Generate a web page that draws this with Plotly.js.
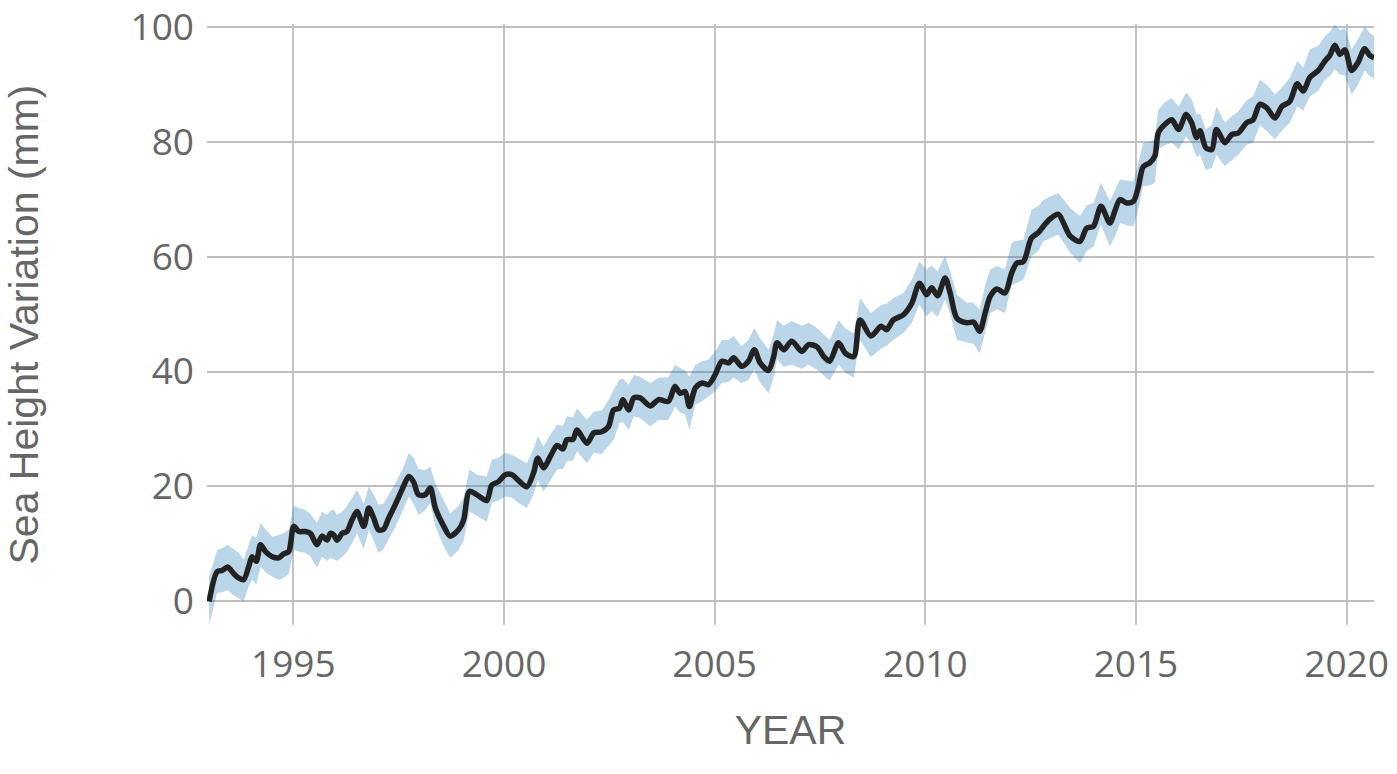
<!DOCTYPE html>
<html>
<head>
<meta charset="utf-8">
<script src="https://cdn.plot.ly/plotly-3.0.1.min.js"></script>
<style>
html,body{margin:0;padding:0;background:#fff;}
#chart{width:1397px;height:774px;}
</style>
</head>
<body>
<div id="chart"></div>
<script>
const years = [1993.00,1993.19,1993.31,1993.44,1993.58,1993.70,1993.82,1993.94,1994.02,1994.12,1994.22,1994.34,1994.50,1994.65,1994.77,1994.89,
1995.01,1995.13,1995.28,1995.40,1995.56,1995.68,1995.80,1995.88,1995.96,1996.04,1996.16,1996.27,1996.39,1996.51,1996.67,1996.79,1996.91,
1997.02,1997.14,1997.26,1997.42,1997.58,1997.74,1997.85,1997.97,1998.13,1998.25,1998.37,1998.57,1998.72,1998.92,1999.04,1999.18,1999.36,
1999.59,1999.71,1999.87,2000.03,2000.19,2000.34,2000.54,2000.70,2000.80,2000.94,2001.10,2001.26,2001.40,2001.49,2001.64,2001.73,2001.97,
2002.13,2002.32,2002.48,2002.60,2002.74,2002.82,2002.96,2003.08,2003.23,2003.47,2003.67,2003.90,2004.06,2004.18,2004.30,2004.40,2004.54,
2004.70,2004.85,2005.01,2005.17,2005.33,2005.45,2005.64,2005.80,2005.94,2006.08,2006.28,2006.40,2006.48,2006.64,2006.83,2007.07,2007.23,
2007.43,2007.59,2007.73,2007.94,2008.10,2008.30,2008.45,2008.71,2008.95,2009.08,2009.24,2009.48,2009.68,2009.86,2010.03,2010.15,2010.29,
2010.47,2010.59,2010.75,2010.99,2011.15,2011.29,2011.42,2011.54,2011.70,2011.89,2012.05,2012.17,2012.33,2012.52,2012.68,2012.80,2012.96,
2013.16,2013.28,2013.44,2013.67,2013.83,2013.99,2014.17,2014.38,2014.50,2014.62,2014.78,2014.94,2015.06,2015.17,2015.33,2015.45,2015.53,
2015.69,2015.85,2016.01,2016.19,2016.32,2016.44,2016.52,2016.66,2016.80,2016.91,2017.11,2017.27,2017.43,2017.63,2017.78,2017.94,2018.10,
2018.30,2018.46,2018.65,2018.83,2018.97,2019.13,2019.33,2019.49,2019.60,2019.72,2019.84,2019.96,2020.12,2020.27,2020.43,2020.55,2020.65];

const seaLevel = [-0.1,5.1,5.3,5.9,4.8,4.0,3.7,6.0,7.7,6.9,9.8,8.6,7.7,7.5,8.2,8.6,
13.0,12.1,12.1,11.8,9.8,11.3,10.6,11.8,11.5,10.6,11.8,12.1,14.1,15.6,13.0,16.2,14.4,
12.4,12.5,14.4,16.8,19.4,21.7,20.8,18.5,18.5,19.7,16.2,13.0,11.3,12.4,14.1,19.1,18.5,
17.5,20.2,20.8,22.0,22.0,21.0,19.9,22.3,24.9,23.2,25.2,27.1,26.5,28.1,28.2,29.8,27.5,
29.3,29.5,30.4,33.3,33.6,35.1,33.3,35.4,35.4,34.0,35.1,34.8,37.4,36.2,36.5,33.9,37.1,
38.0,37.7,39.4,41.8,41.5,42.4,40.9,41.8,43.8,41.5,40.2,42.6,45.0,43.8,45.3,43.5,44.7,
44.3,42.6,41.8,45.0,43.2,42.6,49.0,46.2,47.9,47.3,49.0,49.9,51.9,55.4,53.4,54.6,53.2,
56.3,53.7,49.3,48.5,48.6,47.0,50.2,53.1,54.4,53.7,57.2,58.9,59.2,63.3,64.2,65.3,66.6,
67.4,65.9,63.6,62.7,65.0,65.3,68.8,65.9,68.0,70.0,69.4,69.7,72.3,75.7,76.4,77.6,81.6,
83.1,83.9,82.2,84.8,83.4,80.8,82.0,79.0,78.7,82.2,79.9,81.3,81.6,83.4,83.9,86.6,86.0,
84.2,86.2,87.1,90.2,88.9,91.3,92.5,94.2,95.1,96.9,95.3,96.1,92.5,93.9,96.3,95.1,94.7];

const upperBound = [4.2,8.9,9.2,9.8,9.0,8.4,7.2,10.0,11.5,11.0,13.6,12.5,11.2,11.5,11.8,12.4,
16.6,16.2,15.9,15.2,13.6,15.6,15.0,15.8,15.9,15.0,15.6,16.5,18.0,19.4,17.0,19.9,18.5,
16.8,17.0,18.5,20.5,22.8,25.8,25.0,23.0,22.8,23.4,20.5,17.5,15.3,16.5,18.0,22.9,22.0,
21.7,24.6,25.0,25.8,25.5,24.9,24.0,26.5,28.7,26.9,29.0,30.7,30.5,32.2,32.0,33.6,31.6,
33.0,33.2,35.0,36.8,38.6,38.8,37.7,39.4,39.1,38.0,38.9,39.0,41.2,40.6,40.2,39.1,41.2,
41.8,42.1,43.5,45.5,45.5,46.2,44.4,45.5,47.6,45.8,43.8,46.5,49.0,48.0,48.8,48.0,48.5,
47.6,46.5,45.5,49.0,47.5,46.7,52.8,50.2,51.6,51.8,52.8,53.7,56.0,59.2,57.8,58.5,57.5,
60.2,57.5,53.4,52.0,52.0,50.8,55.0,57.8,58.4,57.8,62.5,62.8,63.0,68.2,68.8,69.9,70.5,
71.1,70.0,68.5,67.1,69.0,69.4,72.9,69.7,71.5,73.5,73.3,73.2,76.5,79.9,80.0,80.5,85.7,
87.0,87.7,86.2,88.6,87.5,84.8,85.0,82.2,83.0,86.2,83.4,84.5,85.4,87.3,88.0,90.9,90.0,
88.3,89.5,91.2,94.2,93.0,96.2,96.8,98.5,99.2,100.5,99.5,99.9,96.2,98.0,100.2,99.0,98.5];

const lowerBound = [-4.2,1.4,1.5,1.9,1.0,0.5,-0.1,2.5,3.7,2.8,6.0,5.0,4.2,3.7,4.0,4.8,
8.9,8.6,8.4,7.8,5.8,7.7,7.0,7.5,7.2,7.0,7.7,8.5,10.0,11.8,9.0,12.4,10.5,
8.4,9.0,10.8,12.8,15.5,18.2,17.0,15.0,15.8,17.1,13.0,9.5,7.5,8.8,10.5,15.6,14.8,
13.8,17.1,17.5,18.2,18.0,17.1,16.2,18.5,21.1,19.1,21.0,22.9,23.0,24.3,24.5,26.1,24.0,
25.8,25.6,27.0,28.1,31.0,31.2,29.8,32.2,31.9,30.4,31.6,31.5,33.9,32.8,32.5,29.8,34.2,
34.8,35.7,36.5,38.0,38.2,38.9,38.0,38.5,40.3,38.0,36.2,39.0,42.1,40.8,41.2,40.5,41.2,
40.3,39.2,38.4,41.2,39.8,38.9,45.5,42.5,44.0,44.5,45.5,46.7,48.5,51.7,49.6,50.5,49.5,
52.5,50.0,45.5,45.0,44.8,43.2,47.0,50.2,50.8,50.2,55.1,55.5,56.0,60.1,61.0,62.7,63.2,
63.9,62.5,60.7,58.9,61.0,61.8,65.6,61.8,63.5,65.9,65.5,65.3,68.5,72.3,72.5,72.9,78.7,
79.5,79.9,78.7,81.0,79.8,77.3,77.8,75.2,75.5,77.8,75.8,76.8,77.8,79.6,79.9,83.0,82.0,
80.5,82.0,83.4,86.2,85.5,88.0,89.0,90.9,91.5,92.7,91.8,91.6,88.3,90.0,92.5,91.5,91.1];

const xTickVals = [1995, 2000, 2005, 2010, 2015, 2020];
const yTickVals = [0, 20, 40, 60, 80, 100];
const yTitle = 'Sea Height Variation (mm)';
const xTitle = 'YEAR';

const traces = [
  {x: years, y: lowerBound, type: 'scatter', mode: 'lines', line: {width: 0, color: 'rgba(0,0,0,0)'},
   hoverinfo: 'skip', showlegend: false},
  {x: years, y: upperBound, type: 'scatter', mode: 'lines', line: {width: 0, color: 'rgba(0,0,0,0)'},
   fill: 'tonexty', fillcolor: 'rgba(31,119,180,0.3)', hoverinfo: 'skip', showlegend: false},
  {x: years, y: seaLevel, type: 'scatter', mode: 'lines',
   line: {color: '#222222', width: 5.5, shape: 'spline', smoothing: 0.8}, showlegend: false}
];

const layout = {
  width: 1397, height: 774,
  margin: {l: 207, r: 23, t: 24, b: 149},
  paper_bgcolor: '#ffffff', plot_bgcolor: '#ffffff',
  showlegend: false,
  xaxis: {
    range: [1992.95, 2020.65],
    tickvals: xTickVals, ticktext: xTickVals.map(String),
    showgrid: true, gridcolor: '#c4c4c4', gridwidth: 2,
    zeroline: false, showline: false, ticks: '',
    ticklabelstandoff: 14,
    tickfont: {family: 'Open Sans, sans-serif', size: 37, color: '#666666'},
    title: {text: xTitle, standoff: 28, font: {family: 'Liberation Sans, Arial, sans-serif', size: 41, color: '#666666'}}
  },
  yaxis: {
    range: [-4.2, 100.6],
    tickvals: yTickVals, ticktext: yTickVals.map(String),
    showgrid: true, gridcolor: '#bfbfbf', gridwidth: 2,
    zeroline: false, showline: false, ticks: '',
    ticklabelstandoff: 12,
    tickfont: {family: 'Open Sans, sans-serif', size: 37, color: '#666666'}
  },
  annotations: [{
    text: yTitle, textangle: -90, showarrow: false,
    xref: 'paper', yref: 'paper', x: -184 / 1167, y: 0.5,
    xanchor: 'center', yanchor: 'middle', borderpad: 0,
    font: {family: 'Liberation Sans, Arial, sans-serif', size: 41, color: '#666666'}
  }]
};

Plotly.newPlot('chart', traces, layout, {displayModeBar: false, staticPlot: true});
</script>
</body>
</html>
